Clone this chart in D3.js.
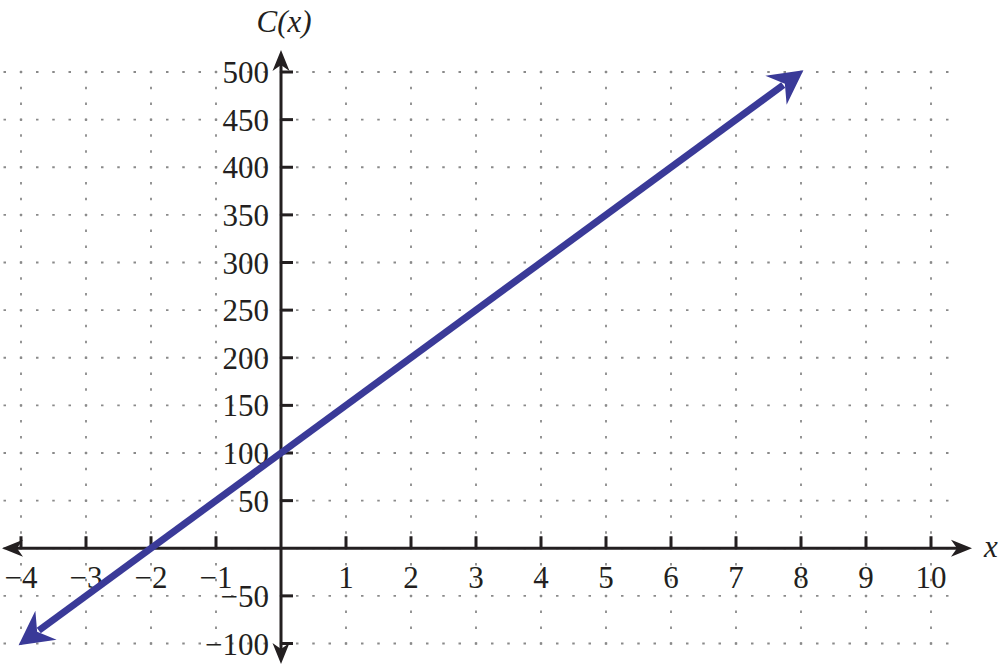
<!DOCTYPE html>
<html>
<head>
<meta charset="utf-8">
<script src="https://cdn.jsdelivr.net/npm/d3@7"></script>
<style>
  html, body { margin: 0; padding: 0; background: #fff; }
  svg text { font-family: "Liberation Serif", "Times New Roman", serif; fill: #231f20; }
</style>
</head>
<body>
<svg id="chart" width="1000" height="666"></svg>
<script>
// Data
var xTicks = [-4, -3, -2, -1, 1, 2, 3, 4, 5, 6, 7, 8, 9, 10];
var yTicks = [-100, -50, 50, 100, 150, 200, 250, 300, 350, 400, 450, 500];
var gridX = [-4, -3, -2, -1, 0, 1, 2, 3, 4, 5, 6, 7, 8, 9, 10];
var gridY = [-100, -50, 0, 50, 100, 150, 200, 250, 300, 350, 400, 450, 500];
var lineX = [-4, 8];
var lineY = [-100, 500];

var svg = d3.select('#chart');

var x = d3.scaleLinear().domain([-4, 10]).range([21, 931]);
var y = d3.scaleLinear().domain([-100, 500]).range([643.5, 72]);

var axisColor = '#231f20';
var gridColor = '#8a8a8a';
var lineColor = '#3a3a98';
var fontSize = '31px';

// barbed arrowhead, tip at origin pointing along +x
var arrowPath = function(len, half, notch) {
  return 'M0,0 L' + (-len) + ',' + (-half) + ' L' + (-notch) + ',0 L' + (-len) + ',' + half + ' Z';
};

// dotted grid, one dot every quarter unit across and every 50/3 down
var hDot = (x(1) - x(0)) / 4;
var vDot = (y(0) - y(50)) / 3;

svg.append('g').selectAll('line')
  .data(gridY)
  .enter().append('line')
  .attr('x1', x(-4.25) - 1.25)
  .attr('x2', x(10.35))
  .attr('y1', function(d) { return y(d); })
  .attr('y2', function(d) { return y(d); })
  .attr('stroke', gridColor)
  .attr('stroke-width', 1.8)
  .attr('stroke-dasharray', '2.5,' + (hDot - 2.5));

svg.append('g').selectAll('line')
  .data(gridX)
  .enter().append('line')
  .attr('x1', function(d) { return x(d); })
  .attr('x2', function(d) { return x(d); })
  .attr('y1', y(500) - 1.25)
  .attr('y2', y(-111))
  .attr('stroke', gridColor)
  .attr('stroke-width', 1.8)
  .attr('stroke-dasharray', '2.5,' + (vDot - 2.5));

// axes
var axes = svg.append('g');
axes.append('line')
  .attr('x1', 8).attr('x2', 960)
  .attr('y1', y(0)).attr('y2', y(0))
  .attr('stroke', axisColor).attr('stroke-width', 3);
axes.append('line')
  .attr('x1', x(0)).attr('x2', x(0))
  .attr('y1', 60).attr('y2', 655)
  .attr('stroke', axisColor).attr('stroke-width', 3);

var axisArrows = [
  { px: 972, py: y(0), angle: 0 },
  { px: 2, py: y(0), angle: 180 },
  { px: x(0), py: 50, angle: -90 },
  { px: x(0), py: 664, angle: 90 }
];
axes.selectAll('path.arrow')
  .data(axisArrows)
  .enter().append('path')
  .attr('class', 'arrow')
  .attr('d', arrowPath(21, 8.5, 15))
  .attr('fill', axisColor)
  .attr('transform', function(d) { return 'translate(' + d.px + ',' + d.py + ') rotate(' + d.angle + ')'; });

// tick marks
axes.selectAll('line.xtick')
  .data(xTicks)
  .enter().append('line')
  .attr('class', 'xtick')
  .attr('x1', function(d) { return x(d); })
  .attr('x2', function(d) { return x(d); })
  .attr('y1', y(0) - 12).attr('y2', y(0))
  .attr('stroke', axisColor).attr('stroke-width', 3);

axes.selectAll('line.ytick')
  .data(yTicks)
  .enter().append('line')
  .attr('class', 'ytick')
  .attr('x1', x(0)).attr('x2', x(0) + 12)
  .attr('y1', function(d) { return y(d); })
  .attr('y2', function(d) { return y(d); })
  .attr('stroke', axisColor).attr('stroke-width', 3);

// tick labels
var fmt = function(d) { return d < 0 ? '\u2212' + Math.abs(d) : String(d); };

axes.selectAll('text.xlabel')
  .data(xTicks)
  .enter().append('text')
  .attr('class', 'xlabel')
  .attr('x', function(d) { return x(d); })
  .attr('y', y(0) + 40)
  .attr('text-anchor', 'middle')
  .style('font-size', fontSize)
  .text(fmt);

axes.selectAll('text.ylabel')
  .data(yTicks)
  .enter().append('text')
  .attr('class', 'ylabel')
  .attr('x', x(0) - 12)
  .attr('y', function(d) { return y(d) + 11; })
  .attr('text-anchor', 'end')
  .style('font-size', fontSize)
  .text(fmt);

// axis titles
svg.append('text')
  .attr('x', 284).attr('y', 32)
  .attr('text-anchor', 'middle')
  .style('font-size', fontSize)
  .style('font-style', 'italic')
  .text('C(x)');
svg.append('text')
  .attr('x', 984).attr('y', 557)
  .style('font-size', fontSize)
  .style('font-style', 'italic')
  .text('x');

// the line C(x)
var pts = lineX.map(function(d, i) { return [x(d), y(lineY[i])]; });
var p0 = pts[0], p1 = pts[1];
var ang = Math.atan2(p1[1] - p0[1], p1[0] - p0[0]);
var ux = Math.cos(ang), uy = Math.sin(ang);
var inset = 22;

svg.append('line')
  .attr('x1', p0[0] + ux * inset).attr('y1', p0[1] + uy * inset)
  .attr('x2', p1[0] - ux * inset).attr('y2', p1[1] - uy * inset)
  .attr('stroke', lineColor).attr('stroke-width', 7);

var deg = ang * 180 / Math.PI;
svg.selectAll('path.lineArrow')
  .data([{ p: p1, a: deg }, { p: p0, a: deg + 180 }])
  .enter().append('path')
  .attr('class', 'lineArrow')
  .attr('d', arrowPath(34, 18, 23))
  .attr('fill', lineColor)
  .attr('transform', function(d) {
    return 'translate(' + (d.p[0] + Math.cos(d.a * Math.PI / 180) * 3) + ',' + (d.p[1] + Math.sin(d.a * Math.PI / 180) * 3) + ') rotate(' + d.a + ')';
  });
</script>
</body>
</html>
